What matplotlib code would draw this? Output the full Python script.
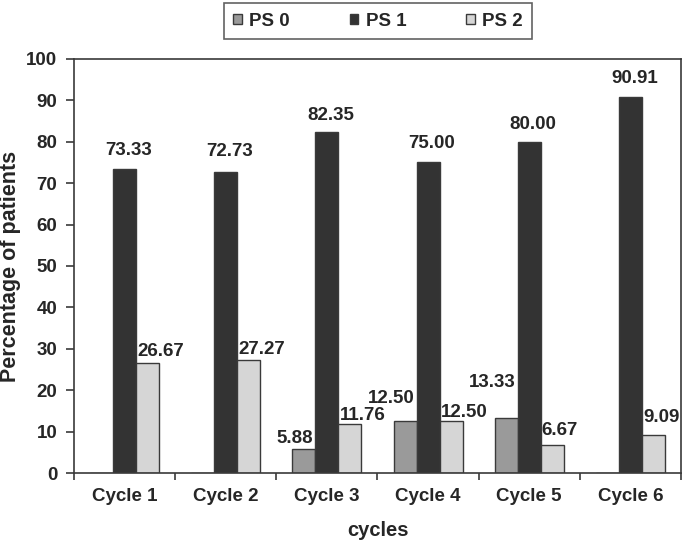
import numpy as np
import matplotlib
matplotlib.use("Agg")
import matplotlib.pyplot as plt
from matplotlib.ticker import MultipleLocator, FixedLocator

plt.rcParams['font.family'] = ['Liberation Sans', 'DejaVu Sans']
plt.rcParams['font.weight'] = 'bold'

# data
cycles = ['Cycle 1', 'Cycle 2', 'Cycle 3', 'Cycle 4', 'Cycle 5', 'Cycle 6']
series = ['PS 0', 'PS 1', 'PS 2']
ps0 = [0, 0, 5.88, 12.50, 13.33, 0]
ps1 = [73.33, 72.73, 82.35, 75.00, 80.00, 90.91]
ps2 = [26.67, 27.27, 11.76, 12.50, 6.67, 9.09]

# style
colors = ['#9a9a9a', '#333333', '#d6d6d6']
edge = '#3a3a3a'
txt = '#262626'
bar_w = 0.227
# label gaps above bar top (px), per series/cycle
gap0 = [0, 0, 6, 18, 31, 0]
gap1 = [14, 16, 12, 14, 13, 14]
gap2 = [7, 6, 4, 4, 10, 13]

fig = plt.figure(figsize=(6.85, 5.41), dpi=100)
ax = fig.add_axes([74/685, 1-473/541, (681-74)/685, (473-59)/541])

x = np.arange(len(cycles))
vals = [ps0, ps1, ps2]
for i, (name, v) in enumerate(zip(series, vals)):
    ax.bar(x + (i - 1) * bar_w, v, bar_w, color=colors[i], edgecolor=edge,
           linewidth=1.0, label=name, zorder=2)

px = 72 / 100  # points per pixel
for i, (v, gaps) in enumerate(zip(vals, [gap0, gap1, gap2])):
    for j, val in enumerate(v):
        if val == 0:
            continue
        xc = x[j] + (i - 1) * bar_w
        if i == 0:
            xa, ha, dx = xc + bar_w / 2, 'right', -2
        elif i == 1:
            xa, ha, dx = xc, 'center', 4
        else:
            xa, ha, dx = xc - bar_w / 2, 'left', 1
        ax.annotate(f'{val:.2f}', (xa, val), xytext=(dx * px, gaps[j] * px),
                    textcoords='offset points', ha=ha, va='baseline',
                    fontsize=13.5, fontweight='bold', color=txt)

ax.set_xlim(-0.5, len(cycles) - 0.5)
ax.set_ylim(0, 100)
ax.yaxis.set_major_locator(MultipleLocator(10))
ax.set_xticks(x)
ax.set_xticklabels(cycles)
ax.xaxis.set_minor_locator(FixedLocator(np.arange(-0.5, len(cycles), 1.0)))
ax.tick_params(axis='x', which='major', length=0, pad=11, labelsize=13.5, labelcolor=txt)
ax.tick_params(axis='x', which='minor', length=5, width=1.2, color=edge, direction='out')
ax.tick_params(axis='y', length=6, width=1.2, color=edge, pad=6, labelsize=13.5, labelcolor=txt)
for s in ax.spines.values():
    s.set_color(edge)
    s.set_linewidth(1.2)

ax.set_xlabel('cycles', fontsize=14.5, fontweight='bold', color=txt, labelpad=11)
ax.set_ylabel('Percentage of patients', fontsize=15.5, fontweight='bold', color=txt, labelpad=4)

leg = ax.legend(loc='center', bbox_to_anchor=(224/685, 1-40/541, 308/685, 38/541),
                bbox_transform=fig.transFigure, ncol=3, mode='expand', frameon=True,
                fancybox=False, edgecolor=edge, fontsize=13.5,
                handlelength=0.45, handleheight=0.45, handletextpad=0.4,
                borderaxespad=0, borderpad=0.5)
leg.get_frame().set_linewidth(1.2)
for t in leg.get_texts():
    t.set_color(txt)

fig.savefig('out.png', dpi=100)
